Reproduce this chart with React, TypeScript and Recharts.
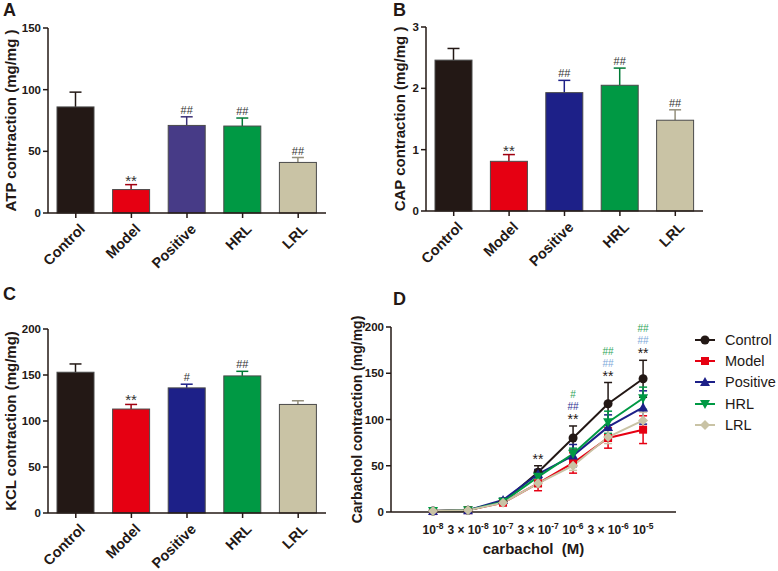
import React from 'react';
import { BarChart, Bar, XAxis, YAxis, Cell, LabelList, LineChart, Line, ErrorBar } from 'recharts';

// groups shared by the three bar panels
const GROUPS = ['Control', 'Model', 'Positive', 'HRL', 'LRL'];

// A: ATP contraction
const ATP_MEAN = [86, 19, 71, 70.5, 41];
const ATP_SEM = [12, 4, 7, 6.5, 4];
const ATP_SIG = ['', '**', '##', '##', '##'];

// B: CAP contraction
const CAP_MEAN = [2.46, 0.81, 1.93, 2.05, 1.48];
const CAP_SEM = [0.19, 0.11, 0.2, 0.28, 0.17];
const CAP_SIG = ['', '**', '##', '##', '##'];

// C: KCL contraction
const KCL_MEAN = [153, 113, 136, 149, 118];
const KCL_SEM = [9, 5, 4, 5, 4];
const KCL_SIG = ['', '**', '#', '##', ''];

// D: carbachol dose-response
const DOSE_COEF = ['', '3 × ', '', '3 × ', '', '3 × ', ''];
const DOSE_EXP = ['-8', '-8', '-7', '-7', '-6', '-6', '-5'];
const CONTROL = [1, 2, 11, 43, 80, 117, 144];
const CONTROL_SEM = [0.5, 1, 2, 7, 13, 23, 20];
const MODEL = [1, 2, 10, 31, 53, 80, 89];
const MODEL_SEM = [0.5, 1, 2, 8, 11, 11, 15];
const POSITIVE = [1, 2, 13, 41, 61, 92, 113];
const POSITIVE_SEM = [0.5, 1, 2, 5, 12, 13, 18];
const HRL = [1, 2, 11, 38, 63, 97, 123];
const HRL_SEM = [0.5, 1, 2, 5, 6, 12, 12];
const LRL = [1, 2, 10, 31, 50, 81, 99];
const LRL_SEM = [0.5, 1, 1.5, 4, 5, 7, 9];
const SIG_CTRL = ['', '', '', '**', '**', '**', '**'];
const SIG_POS = ['', '', '', '', '##', '##', '##'];
const SIG_HRL = ['', '', '', '', '#', '##', '##'];

const FONT = '"Liberation Sans", Arial, sans-serif';
const INK = '#231815';

const FILLS_A = ['#231815', '#e60012', '#473b87', '#009944', '#c9c3a5'];
const FILLS_BC = ['#231815', '#e60012', '#1d2088', '#009944', '#c9c3a5'];
const ERRS_A = ['#231815', '#a00010', '#3d3278', '#007a36', '#948f7c'];
const ERRS_BC = ['#231815', '#a00010', '#1d2088', '#007a36', '#948f7c'];

const POS_SIG_COLOR = ['#2e3192', '#2e3192', '#2e3192', '#2e3192', '#2e3192', '#7da7d9', '#7da7d9'];

const SERIES = [
  { key: 'control', name: 'Control', color: '#231815', marker: 'circle' },
  { key: 'model', name: 'Model', color: '#e60012', marker: 'square' },
  { key: 'positive', name: 'Positive', color: '#1d2088', marker: 'up' },
  { key: 'hrl', name: 'HRL', color: '#009944', marker: 'down' },
  { key: 'lrl', name: 'LRL', color: '#c9c3a5', marker: 'diamond' },
];

function NumTick({ x, y, payload }: any) {
  return (
    <g>
      <text x={x} y={y} dy={4} textAnchor="end" fontSize={11.5} fontWeight="bold" fill={INK} fontFamily={FONT}>
        {payload.value}
      </text>
    </g>
  );
}

function YTitle({ viewBox, title, tx, fs }: any) {
  const cy = viewBox.y + viewBox.height / 2;
  return (
    <g>
      <text x={tx} y={cy} transform={`rotate(-90 ${tx} ${cy})`} textAnchor="middle" dominantBaseline="central"
        fontSize={fs} fontWeight="bold" fill={INK} fontFamily={FONT}>
        {title}
      </text>
    </g>
  );
}

function RotTick({ x, y, payload }: any) {
  return (
    <g transform={`translate(${x + 10},${y + 10}) rotate(-45)`}>
      <text x={0} y={0} textAnchor="end" fontSize={14.5} fontWeight="bold" fill={INK} fontFamily={FONT}>
        {payload.value}
      </text>
    </g>
  );
}

function Marker({ kind, cx, cy, color }: any) {
  if (kind === 'circle') return <circle cx={cx} cy={cy} r={4.5} fill={color} />;
  if (kind === 'square') return <rect x={cx - 4} y={cy - 4} width={8} height={8} fill={color} />;
  if (kind === 'up') return <polygon points={`${cx},${cy - 5} ${cx + 5},${cy + 4} ${cx - 5},${cy + 4}`} fill={color} />;
  if (kind === 'down') return <polygon points={`${cx},${cy + 5} ${cx + 5},${cy - 4} ${cx - 5},${cy - 4}`} fill={color} />;
  return <polygon points={`${cx},${cy - 5} ${cx + 5},${cy} ${cx},${cy + 5} ${cx - 5},${cy}`} fill={color} />;
}

// '**' sits higher in its em box than '#', so it gets a lower baseline
function SigText({ x, y, text, color, star, hash }: any) {
  const isStar = text.startsWith('*');
  return (
    <text x={x} y={isStar ? y + 1 : y - 3} textAnchor="middle" fontSize={isStar ? star : hash} fill={color} fontFamily={FONT}>
      {text}
    </text>
  );
}

function BarPanel({ means, sems, sigs, fills, errs, domain, ticks, title, titleX, width, height, margin, xAxisHeight, yAxisWidth }: any) {
  const rows = GROUPS.map((g, i) => ({ name: g, mean: means[i], sem: sems[i], sig: sigs[i] }));

  // bar + one-sided error bar + significance mark, error scaled with the bar's own px/unit
  const shape = (p: any) => {
    const { x, y, width: w, height: h, fill, payload, index } = p;
    const perUnit = payload.mean ? h / payload.mean : 0;
    const top = y - payload.sem * perUnit;
    const cx = x + w / 2;
    const ec = errs[index];
    return (
      <g>
        <line x1={cx} x2={cx} y1={y} y2={top} stroke={ec} strokeWidth={1.5} />
        <line x1={cx - 6} x2={cx + 6} y1={top} y2={top} stroke={ec} strokeWidth={1.5} />
        <rect x={x} y={y} width={w} height={h} fill={fill} stroke="#4a4a4a" strokeWidth={1} />
        {payload.sig && <SigText x={cx} y={top} text={payload.sig} color="#333333" star={15} hash={11} />}
      </g>
    );
  };

  return (
    <BarChart width={width} height={height} data={rows} margin={margin}>
      <XAxis dataKey="name" height={xAxisHeight} interval={0} tick={<RotTick />} tickSize={5}
        axisLine={{ stroke: INK, strokeWidth: 1.5 }} tickLine={{ stroke: INK, strokeWidth: 1.5 }} />
      <YAxis width={yAxisWidth} domain={domain} ticks={ticks} tick={<NumTick />} tickSize={5} interval={0}
        axisLine={{ stroke: INK, strokeWidth: 1.5 }} tickLine={{ stroke: INK, strokeWidth: 1.5 }}
        label={<YTitle title={title} tx={titleX} fs={15} />} />
      <Bar dataKey="mean" barSize={37} shape={shape} isAnimationActive={false}>
        {rows.map((r, i) => (
          <Cell key={r.name} fill={fills[i]} />
        ))}
      </Bar>
    </BarChart>
  );
}

function DoseTick({ x, y, payload }: any) {
  const i = payload.value;
  if (i < 0 || i > 6) return null;
  return (
    <g>
      <text x={x} y={y + 14} textAnchor="middle" fontSize={12} fontWeight="bold" fill={INK} fontFamily={FONT}>
        <tspan>{DOSE_COEF[i]}10</tspan>
        <tspan fontSize={8.5} dy={-5}>{DOSE_EXP[i]}</tspan>
      </text>
    </g>
  );
}

function XTitle({ viewBox }: any) {
  return (
    <g>
      <text x={viewBox.x + viewBox.width / 2} y={viewBox.y + 42} textAnchor="middle" fontSize={15} fontWeight="bold"
        fill={INK} fontFamily={FONT} style={{ whiteSpace: 'pre' }}>
        {'carbachol  (M)'}
      </text>
    </g>
  );
}

function DosePanel() {
  const rows = DOSE_EXP.map((_, i) => ({
    i,
    control: CONTROL[i], controlSem: CONTROL_SEM[i],
    model: MODEL[i], modelSem: MODEL_SEM[i],
    positive: POSITIVE[i], positiveSem: POSITIVE_SEM[i],
    hrl: HRL[i], hrlSem: HRL_SEM[i],
    lrl: LRL[i], lrlSem: LRL_SEM[i],
    ctrlTop: CONTROL[i] + CONTROL_SEM[i],
  }));

  const sigStack = (p: any) => {
    const { x, y, index } = p;
    if (!SIG_CTRL[index]) return null;
    return (
      <g key={`d${index}`}>
        <SigText x={x} y={y - 3} text={SIG_CTRL[index]} color="#231815" star={14} hash={10} />
        {SIG_POS[index] && <SigText x={x} y={y - 13} text={SIG_POS[index]} color={POS_SIG_COLOR[index]} star={14} hash={10} />}
        {SIG_HRL[index] && <SigText x={x} y={y - 25} text={SIG_HRL[index]} color="#2ea55a" star={14} hash={10} />}
      </g>
    );
  };

  return (
    <LineChart width={438} height={291} data={rows} margin={{ top: 47, right: 102, bottom: 0, left: 0 }}>
      <XAxis dataKey="i" type="number" domain={[-1.2, 6.94]} ticks={[0, 1, 2, 3, 4, 5, 6]} interval={0}
        height={59} tick={<DoseTick />} tickLine={false} axisLine={{ stroke: INK, strokeWidth: 1.5 }}
        label={<XTitle />} />
      <YAxis width={51} domain={[0, 200]} ticks={[0, 50, 100, 150, 200]} tick={<NumTick />} tickSize={5} interval={0}
        axisLine={{ stroke: INK, strokeWidth: 1.5 }} tickLine={{ stroke: INK, strokeWidth: 1.5 }}
        label={<YTitle title="Carbachol contraction (mg/mg)" tx={17} fs={14} />} />
      {SERIES.map((s) => (
        <Line key={s.key} dataKey={s.key} stroke={s.color} strokeWidth={2} isAnimationActive={false}
          dot={(p: any) => <Marker key={`${s.key}${p.index}`} kind={s.marker} cx={p.cx} cy={p.cy} color={s.color} />}
          activeDot={false}>
          <ErrorBar dataKey={`${s.key}Sem`} direction="y" width={4} stroke={s.color} strokeWidth={1.5} />
        </Line>
      ))}
      <Line dataKey="ctrlTop" stroke="none" dot={false} activeDot={false} isAnimationActive={false} legendType="none">
        <LabelList dataKey="ctrlTop" content={sigStack} />
      </Line>
    </LineChart>
  );
}

function Letter({ text, x, baseline }: any) {
  return (
    <div style={{ position: 'absolute', left: x, top: baseline - 15, fontSize: 18, lineHeight: '18px', fontWeight: 'bold', color: INK }}>
      {text}
    </div>
  );
}

export default function App() {
  return (
    <div style={{ position: 'absolute', left: 0, top: 0, width: 778, height: 571, background: '#fff', fontFamily: FONT, overflow: 'hidden' }}>
      <div style={{ position: 'absolute', left: 0, top: 0 }}>
        <BarPanel means={ATP_MEAN} sems={ATP_SEM} sigs={ATP_SIG} fills={FILLS_A} errs={ERRS_A}
          domain={[0, 150]} ticks={[0, 50, 100, 150]} title="ATP contraction (mg/mg )" titleX={10}
          width={390} height={290} margin={{ top: 28, right: 64, bottom: 0, left: 0 }} xAxisHeight={77} yAxisWidth={48} />
      </div>
      <div style={{ position: 'absolute', left: 390, top: 0 }}>
        <BarPanel means={CAP_MEAN} sems={CAP_SEM} sigs={CAP_SIG} fills={FILLS_BC} errs={ERRS_BC}
          domain={[0, 3]} ticks={[0, 1, 2, 3]} title="CAP contraction (mg/mg )" titleX={9}
          width={388} height={290} margin={{ top: 27, right: 75, bottom: 0, left: 0 }} xAxisHeight={79} yAxisWidth={36} />
      </div>
      <div style={{ position: 'absolute', left: 0, top: 280 }}>
        <BarPanel means={KCL_MEAN} sems={KCL_SEM} sigs={KCL_SIG} fills={FILLS_BC} errs={ERRS_BC}
          domain={[0, 200]} ticks={[0, 50, 100, 150, 200]} title="KCL contraction (mg/mg)" titleX={10}
          width={390} height={291} margin={{ top: 49, right: 64, bottom: 0, left: 0 }} xAxisHeight={58} yAxisWidth={48} />
      </div>
      <div style={{ position: 'absolute', left: 340, top: 280 }}>
        <DosePanel />
      </div>

      <div style={{ position: 'absolute', left: 695, top: 329 }}>
        {SERIES.map((s) => (
          <div key={s.key} style={{ display: 'flex', alignItems: 'center', height: 21.3 }}>
            <svg width={20} height={12} style={{ flexShrink: 0 }}>
              <line x1={0} x2={20} y1={6} y2={6} stroke={s.color} strokeWidth={2} />
              <Marker kind={s.marker} cx={10} cy={6} color={s.color} />
            </svg>
            <span style={{ marginLeft: 10, fontSize: 14.5, color: INK, whiteSpace: 'nowrap' }}>{s.name}</span>
          </div>
        ))}
      </div>

      <Letter text="A" x={3} baseline={16} />
      <Letter text="B" x={393} baseline={16} />
      <Letter text="C" x={3} baseline={300} />
      <Letter text="D" x={393} baseline={305} />
    </div>
  );
}
